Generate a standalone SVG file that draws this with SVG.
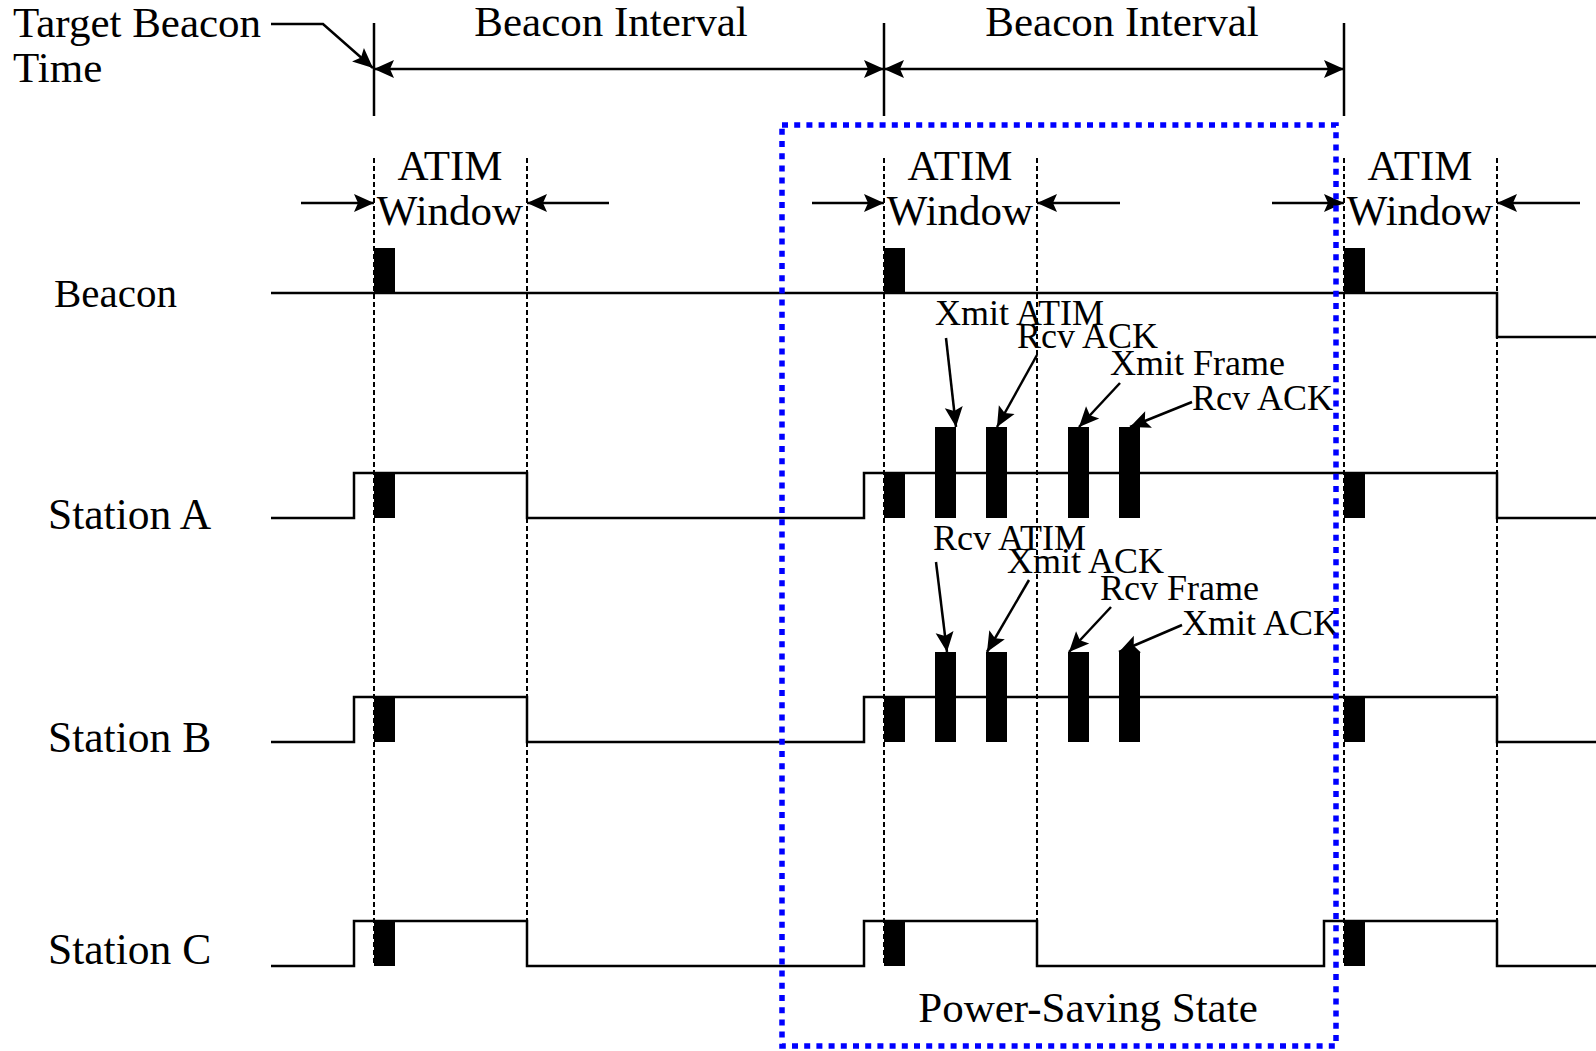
<svg xmlns="http://www.w3.org/2000/svg" width="1596" height="1051" viewBox="0 0 1596 1051">
<defs>
<style>
text{font-family:"Liberation Serif","Times New Roman",serif;fill:#000}
.big{font-size:43px}
.lbl{font-size:43.5px}
.sm{font-size:36px}
.mid{text-anchor:middle}
.sig{fill:none;stroke:#000;stroke-width:2.5}
.tick{stroke:#000;stroke-width:2.5}
.dash{stroke:#000;stroke-width:2;stroke-dasharray:5 3}
.arr{fill:none;stroke:#000;stroke-width:2.5;marker-end:url(#ah)}
.dbl{fill:none;stroke:#000;stroke-width:2.5;marker-start:url(#ah);marker-end:url(#ah)}
.blk{fill:#000}
.ps{fill:none;stroke:#0000ff;stroke-width:5.5;stroke-dasharray:6 6.2}
</style>
<marker id="ah" markerUnits="userSpaceOnUse" markerWidth="22" markerHeight="20" refX="20" refY="9" orient="auto-start-reverse" overflow="visible">
<path d="M0,0 L20,9 L0,18 L4,9 z" fill="#000"/>
</marker>
</defs>
<rect width="1596" height="1051" fill="#fff"/>

<g id="timeline-header">
<text class="big" x="13" y="37">Target Beacon</text>
<text class="big" x="13" y="82">Time</text>
<text class="big mid" x="611" y="36">Beacon Interval</text>
<text class="big mid" x="1122" y="36">Beacon Interval</text>
<line class="tick" x1="374" y1="23" x2="374" y2="116"/>
<line class="tick" x1="884" y1="23" x2="884" y2="116"/>
<line class="tick" x1="1344" y1="23" x2="1344" y2="116"/>
</g>

<g id="atim-windows">
<line class="dash" x1="374" y1="158" x2="374" y2="966"/>
<line class="dash" x1="527" y1="158" x2="527" y2="966"/>
<line class="dash" x1="884" y1="158" x2="884" y2="966"/>
<line class="dash" x1="1037" y1="158" x2="1037" y2="966"/>
<line class="dash" x1="1344" y1="158" x2="1344" y2="966"/>
<line class="dash" x1="1497" y1="158" x2="1497" y2="966"/>
<text class="big mid" x="450" y="180">ATIM</text>
<text class="big mid" x="450" y="225">Window</text>
<text class="big mid" x="960" y="180">ATIM</text>
<text class="big mid" x="960" y="225">Window</text>
<text class="big mid" x="1420" y="180">ATIM</text>
<text class="big mid" x="1420" y="225">Window</text>
</g>

<g id="beacon">
<text class="big" x="54" y="307" style="font-size:41px">Beacon</text>
<path class="sig" d="M271,293 H1497 V337 H1596"/>
<rect class="blk" x="374" y="248" width="21" height="45"/>
<rect class="blk" x="884" y="248" width="21" height="45"/>
<rect class="blk" x="1344" y="248" width="21" height="45"/>
</g>

<g id="station-a">
<text class="lbl" x="48" y="529">Station A</text>
<path class="sig" d="M271,518 H354 V473 H527 V518 H864 V473 H1497 V518 H1596"/>
<rect class="blk" x="374" y="473" width="21" height="45"/>
<rect class="blk" x="884" y="473" width="21" height="45"/>
<rect class="blk" x="1344" y="473" width="21" height="45"/>
<rect class="blk" x="935" y="427" width="21" height="91"/>
<rect class="blk" x="986" y="427" width="21" height="91"/>
<rect class="blk" x="1068" y="427" width="21" height="91"/>
<rect class="blk" x="1119" y="427" width="21" height="91"/>
<text class="sm" x="935" y="325">Xmit ATIM</text>
<text class="sm" x="1017" y="348">Rcv ACK</text>
<text class="sm" x="1110" y="375">Xmit Frame</text>
<text class="sm" x="1192" y="410">Rcv ACK</text>
</g>

<g id="station-b">
<text class="lbl" x="48" y="752">Station B</text>
<path class="sig" d="M271,742 H354 V697 H527 V742 H864 V697 H1497 V742 H1596"/>
<rect class="blk" x="374" y="697" width="21" height="45"/>
<rect class="blk" x="884" y="697" width="21" height="45"/>
<rect class="blk" x="1344" y="697" width="21" height="45"/>
<rect class="blk" x="935" y="652" width="21" height="90"/>
<rect class="blk" x="986" y="652" width="21" height="90"/>
<rect class="blk" x="1068" y="652" width="21" height="90"/>
<rect class="blk" x="1119" y="652" width="21" height="90"/>
<text class="sm" x="933" y="550">Rcv ATIM</text>
<text class="sm" x="1007" y="573">Xmit ACK</text>
<text class="sm" x="1100" y="600">Rcv Frame</text>
<text class="sm" x="1182" y="635">Xmit ACK</text>
</g>

<g id="station-c">
<text class="lbl" x="48" y="964">Station C</text>
<path class="sig" d="M271,966 H354 V921 H527 V966 H864 V921 H1037 V966 H1324 V921 H1497 V966 H1596"/>
<rect class="blk" x="374" y="921" width="21" height="45"/>
<rect class="blk" x="884" y="921" width="21" height="45"/>
<rect class="blk" x="1344" y="921" width="21" height="45"/>
</g>

<g id="connectors">
<path class="arr" d="M271,24 H323 L373,68"/>
<path class="dbl" d="M374,69 H884"/>
<path class="dbl" d="M884,69 H1344"/>
<path class="arr" d="M301,203 H374"/>
<path class="arr" d="M609,203 H527"/>
<path class="arr" d="M812,203 H884"/>
<path class="arr" d="M1120,203 H1037"/>
<path class="arr" d="M1272,203 H1344"/>
<path class="arr" d="M1580,203 H1497"/>
<path class="arr" d="M946,338 L956,427"/>
<path class="arr" d="M1037,355 L997,427"/>
<path class="arr" d="M1120,383 L1079,427"/>
<path class="arr" d="M1192,402 L1130,427"/>
<path class="arr" d="M936,562 L947,652"/>
<path class="arr" d="M1029,580 L987,652"/>
<path class="arr" d="M1111,607 L1069,652"/>
<path class="arr" d="M1182,625 L1119,652"/>
</g>

<g id="power-saving-state">
<rect class="ps" x="782" y="125" width="554" height="921"/>
<text class="big mid" x="1088" y="1022">Power-Saving State</text>
</g>
</svg>
